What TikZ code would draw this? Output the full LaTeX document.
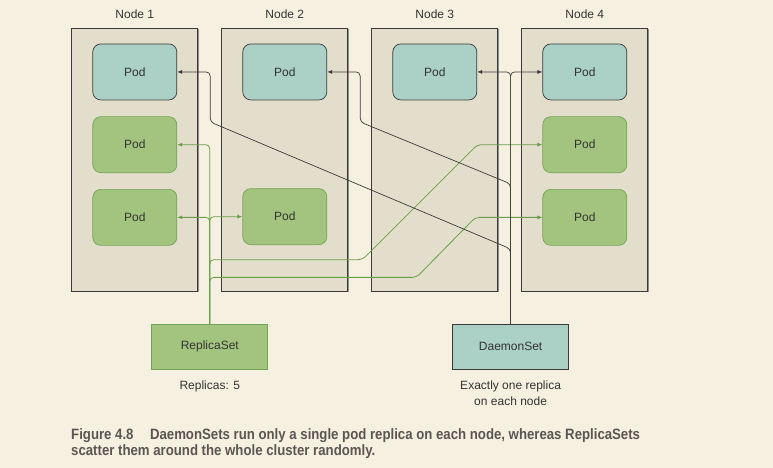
\documentclass[tikz,border=0pt]{standalone}
\usepackage{fontspec}
\setmainfont{Liberation Sans}
\newfontfamily\capfont[FakeStretch=0.88]{Liberation Sans}
\usetikzlibrary{positioning,arrows.meta,shadows,calc}

\definecolor{paper}{HTML}{F5F0E0}
\definecolor{hostfill}{HTML}{E3DECB}
\definecolor{edge}{HTML}{3A3A3A}
\definecolor{dsfill}{HTML}{ABD0C5}
\definecolor{rsfill}{HTML}{A3C47E}
\definecolor{rsedge}{HTML}{72A553}
\definecolor{rsgreen}{HTML}{6A9E4A}
\definecolor{captext}{HTML}{5A5752}
\definecolor{textdark}{HTML}{333333}

\tikzset{
	host/.style={draw=edge, fill=hostfill, line width=0.8pt,
		minimum width=126pt, minimum height=263pt,
		drop shadow={shadow xshift=1.2pt, shadow yshift=-1.2pt, fill=black!45, opacity=1}},
	hostname/.style={inner sep=0pt},
	dspod/.style={draw=edge, fill=dsfill, rounded corners=8pt, line width=0.7pt,
		minimum width=84pt, minimum height=56pt},
	rspod/.style={draw=rsedge, fill=rsfill, rounded corners=8pt, line width=0.7pt,
		minimum width=84pt, minimum height=56pt},
	dsbox/.style={draw=edge, fill=dsfill, line width=0.8pt, minimum width=116pt, minimum height=45pt},
	rsbox/.style={draw=rsedge, fill=rsfill, line width=0.8pt, minimum width=116pt, minimum height=45pt},
	note/.style={inner sep=0pt, align=center},
	dsline/.style={draw=edge, line width=0.7pt, rounded corners=4pt},
	rsline/.style={draw=rsgreen, line width=0.8pt, rounded corners=4pt},
	caption/.style={inner sep=0pt, align=left, text=captext,
		font=\capfont\bfseries\fontsize{15}{16.7}\selectfont}
}

\begin{document}
\begin{tikzpicture}[x=1pt, y=-1pt, >={Latex[length=5pt,width=4pt]},
	every node/.style={text=textdark, font=\fontsize{12}{16}\selectfont}]
	\fill [paper] (0,0) rectangle (773,468);
	\useasboundingbox (0,0) rectangle (773,468);

	% cluster nodes
	\node [host] (n1) at (134.8,159.5) {};
	\node [host, right=23.2pt of n1] (n2) {};
	\node [host, right=23.2pt of n2] (n3) {};
	\node [host, right=23.2pt of n3] (n4) {};
	\node [hostname, above=8.5pt of n1] (t1) {Node 1};
	\node [hostname, above=8.5pt of n2] (t2) {Node 2};
	\node [hostname, above=8.5pt of n3] (t3) {Node 3};
	\node [hostname, above=8.5pt of n4] (t4) {Node 4};

	% pods
	\node [dspod, below=16pt of n1.north] (p11) {Pod};
	\node [rspod, below=16pt of p11] (p12) {Pod};
	\node [rspod, below=16pt of p12] (p13) {Pod};
	\node [dspod, below=16pt of n2.north] (p21) {Pod};
	\node [rspod, below=88pt of p21] (p23) {Pod};
	\node [dspod, below=16pt of n3.north] (p31) {Pod};
	\node [dspod, below=16pt of n4.north] (p41) {Pod};
	\node [rspod, below=16pt of p41] (p42) {Pod};
	\node [rspod, below=16pt of p42] (p43) {Pod};

	% controllers
	\node [rsbox] (rs) at (209.8,346.8) {ReplicaSet};
	\node [dsbox, right=184pt of rs] (ds) {DaemonSet};
	\node [note, below=11pt of rs] (rsn) {Replicas: 5};
	\node [note, below=11pt of ds] (dsn) {Exactly one replica\\on each node};

	% ReplicaSet pods
	\draw [rsline, ->] (rs.north) |- (p12.east);
	\draw [rsline, ->] (rs.north) |- (p13.east);
	\draw [rsline, ->] (rs.north) |- (p23.west);
	\draw [rsline, <-] (p42.west) -- ++(-65,0) -- ++(-115,115) -| (rs.north);
	\draw [rsline, <-] (p43.west) -- ++(-67,0) -- ++(-59,60) -| (rs.north);

	% DaemonSet pods
	\draw [dsline, ->] (ds.north) |- (p31.east);
	\draw [dsline, ->] (ds.north) |- (p41.west);
	\draw [dsline, <-] (p21.east) -| ++(33,50) -- ($(ds.north)+(0,-140)$) -- (ds.north);
	\draw [dsline, <-] (p11.east) -| ++(33,50) -- ($(ds.north)+(0,-75)$) -- (ds.north);

	\node [caption, anchor=north west] (cap) at (71,428)
		{Figure 4.8\hspace{1.1em}DaemonSets run only a single pod replica on each node, whereas ReplicaSets\\
		scatter them around the whole cluster randomly.};
\end{tikzpicture}
\end{document}
